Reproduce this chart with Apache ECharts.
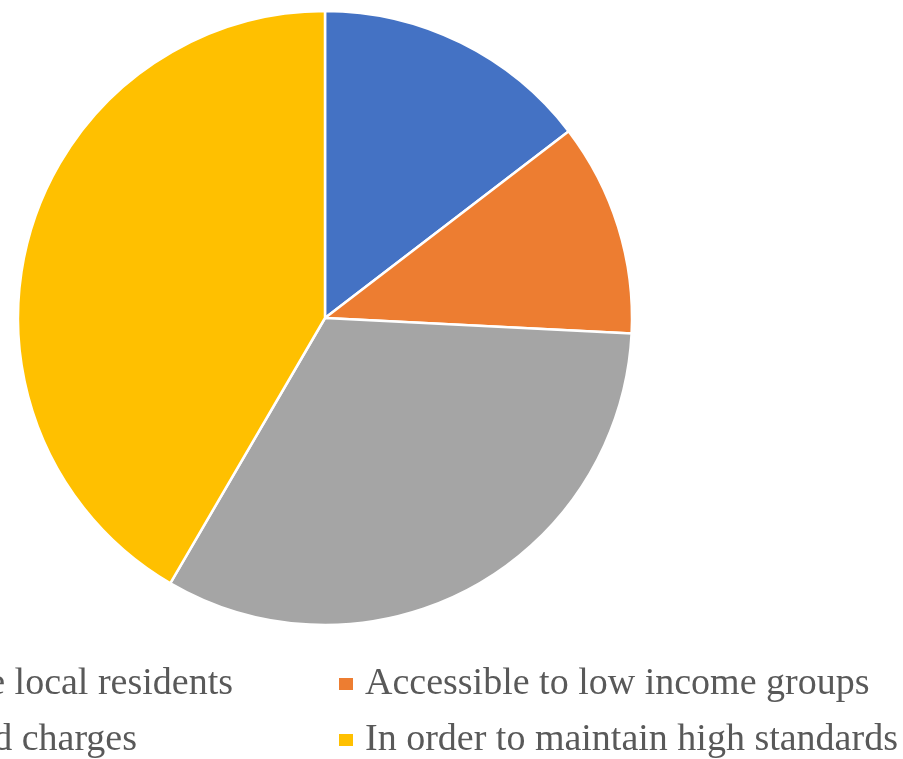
<!DOCTYPE html>
<html>
<head>
<meta charset="utf-8">
<title>Pie</title>
<script src="https://cdn.jsdelivr.net/npm/echarts@6/dist/echarts.min.js"></script>
<style>
  html, body { margin: 0; padding: 0; background: #fff; }
  #chart { width: 903px; height: 759px; }
</style>
</head>
<body>
<div id="chart"></div>
<script>
const categories = [
  'Affordable to the local residents',
  'Accessible to low income groups',
  'Reasonable and fixed charges',
  'In order to maintain high standards',
];
const shares = [14.6, 11.2, 32.6, 41.6];
const colors = ['#4472C4', '#ED7D31', '#A5A5A5', '#FFC000'];

const legendText = {
  color: '#595959',
  fontFamily: "'Liberation Serif', 'Times New Roman', serif",
  fontSize: 38,
  lineHeight: 40,
  padding: [0, 0, 0, 6],
};

// one legend per entry so each can sit where the reference has it
const legendBase = {
  icon: 'rect',
  itemWidth: 16,
  itemHeight: 14,
  padding: 0,
  selectedMode: false,
  textStyle: legendText,
};

const chart = echarts.init(document.getElementById('chart'));

chart.setOption({
  animation: false,
  color: colors,
  legend: [
    // left column is cut off by the left edge, so anchor it by its right end
    { ...legendBase, data: [categories[0]], right: 903 - 233, top: 664 },
    { ...legendBase, data: [categories[2]], right: 903 - 137, top: 720 },
    { ...legendBase, data: [categories[1]], left: 337, top: 664 },
    { ...legendBase, data: [categories[3]], left: 337, top: 720 },
  ],
  series: [
    {
      type: 'pie',
      center: [325, 318],
      radius: 307,
      startAngle: 90,
      clockwise: true,
      label: { show: false },
      labelLine: { show: false },
      emphasis: { disabled: true },
      itemStyle: { borderColor: '#fff', borderWidth: 2.5 },
      data: categories.map((name, i) => ({ name, value: shares[i] })),
    },
  ],
});
</script>
</body>
</html>
